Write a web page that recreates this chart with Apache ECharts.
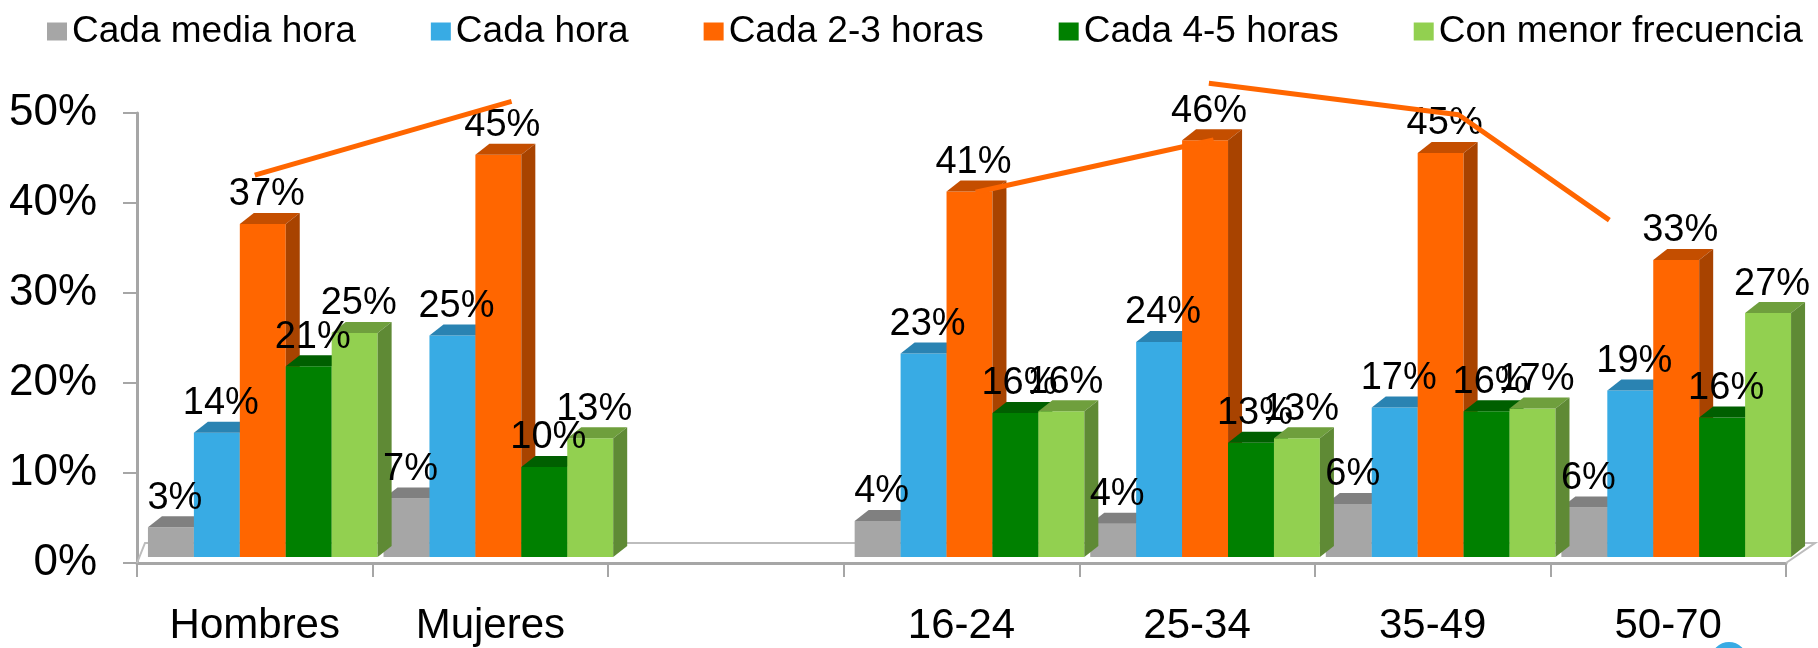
<!DOCTYPE html>
<html>
<head>
<meta charset="utf-8">
<script src="https://cdn.jsdelivr.net/npm/echarts@6/dist/echarts.min.js"></script>
<style>
  html, body { margin: 0; padding: 0; background: #fff; }
  #chart { width: 1818px; height: 648px; }
</style>
</head>
<body>
<div id="chart"></div>
<script>
// categories (the blank one is the gap between sex and age groups)
var categories = ['Hombres', 'Mujeres', '', '16-24', '25-34', '35-49', '50-70'];
var seriesNames = ['Cada media hora', 'Cada hora', 'Cada 2-3 horas', 'Cada 4-5 horas', 'Con menor frecuencia'];

// values in %
var mediaHora = [3.3, 6.5, null, 4.0, 3.7, 5.9, 5.5];
var unaHora = [13.8, 24.6, null, 22.6, 23.9, 16.6, 18.5];
var dosTres = [37.0, 44.7, null, 40.6, 46.3, 44.9, 33.0];
var cuatroCinco = [21.2, 10.0, null, 16.0, 12.7, 16.2, 15.5];
var menorFrec = [24.9, 13.2, null, 16.2, 13.2, 16.5, 27.1];

var yTicks = [0, 10, 20, 30, 40, 50];

// hand drawn orange trend strokes (x in category index units, y in %)
var trendSexX = [0.0, 1.09];
var trendSexY = [43.1, 51.3];
var trendRiseX = [3.06, 4.07];
var trendRiseY = [41.2, 47.0];
var trendFallX = [4.05, 5.11, 5.75];
var trendFallY = [53.3, 49.8, 38.1];

var frontColors = ['#A6A6A6', '#38ABE4', '#FF6600', '#008000', '#92D050'];
var topColors = ['#808080', '#2A83B2', '#C44E00', '#005F00', '#6F9F3D'];
var sideColors = ['#8A8A8A', '#2E8FC2', '#A84300', '#006A00', '#5F8A35'];

var FONT = 'Liberation Sans, Arial, sans-serif';
var DX = 14, DY = 11;      // bar depth
var SHIFT_X = 8, SHIFT_Y = 6;

function barRenderer(k) {
  return function (params, api) {
    var val = api.value(1);
    if (val == null || isNaN(val)) return;
    var cat = api.value(0);
    var base = api.coord([cat, 0]);
    var top = api.coord([cat, val]);
    var band = api.size([1, 0])[0];
    var w = band * 0.195;
    var x0 = base[0] - 2.5 * w + k * w + SHIFT_X;
    var yb = base[1] - SHIFT_Y;
    var yt = top[1] - SHIFT_Y;
    return {
      type: 'group',
      children: [
        { type: 'rect', shape: { x: x0, y: yt, width: w, height: yb - yt }, style: { fill: frontColors[k] } },
        { type: 'polygon', shape: { points: [[x0, yt], [x0 + w, yt], [x0 + w + DX, yt - DY], [x0 + DX, yt - DY]] }, style: { fill: topColors[k] } },
        { type: 'polygon', shape: { points: [[x0 + w, yt], [x0 + w + DX, yt - DY], [x0 + w + DX, yb - DY], [x0 + w, yb]] }, style: { fill: sideColors[k] } },
        { type: 'text', z2: 100, style: { text: Math.round(val) + '%', x: x0 + w / 2 + 4, y: yt - 29, align: 'center', verticalAlign: 'middle', fill: '#000', font: '38px ' + FONT } }
      ]
    };
  };
}

function floorRenderer(params, api) {
  var left = api.coord([0, 0]);
  var band = api.size([1, 0])[0];
  var x1 = left[0] - band / 2;
  var x2 = x1 + band * categories.length;
  var y = left[1];
  return {
    type: 'polyline',
    shape: { points: [[x1, y], [x1 + 8, y - 20], [x2 + 29, y - 20], [x2, y]] },
    style: { stroke: '#BDBDBD', lineWidth: 2, fill: null }
  };
}

function pairs(xs, ys) {
  return xs.map(function (x, i) { return [x, ys[i]]; });
}

var allValues = [mediaHora, unaHora, dosTres, cuatroCinco, menorFrec];

var series = [{
  type: 'custom',
  name: 'floor',
  renderItem: floorRenderer,
  data: [[0, 0]],
  silent: true,
  z: 1
}];

allValues.forEach(function (vals, k) {
  series.push({
    type: 'custom',
    name: seriesNames[k],
    renderItem: barRenderer(k),
    itemStyle: { color: frontColors[k] },
    encode: { x: 0, y: 1 },
    data: vals.map(function (v, i) { return [i, v]; }),
    z: 2
  });
});

[[trendSexX, trendSexY], [trendRiseX, trendRiseY], [trendFallX, trendFallY]].forEach(function (t) {
  series.push({
    type: 'line',
    xAxisIndex: 1,
    data: pairs(t[0], t[1]),
    symbol: 'none',
    clip: false,
    lineStyle: { color: '#FF6600', width: 5 },
    z: 3,
    silent: true
  });
});

var chart = echarts.init(document.getElementById('chart'));
chart.setOption({
  animation: false,
  legend: {
    data: seriesNames,
    left: 42,
    top: 8,
    icon: 'rect',
    itemWidth: 20,
    itemHeight: 18,
    itemGap: 75,
    textStyle: { fontSize: 37, color: '#000', fontFamily: FONT }
  },
  grid: { left: 137, right: 32, top: 113, bottom: 85 },
  xAxis: [{
    type: 'category',
    data: categories,
    boundaryGap: true,
    axisLine: { lineStyle: { color: '#A6A6A6', width: 3 } },
    axisTick: { show: true, interval: 0, length: 14, lineStyle: { color: '#A6A6A6', width: 2 } },
    axisLabel: { interval: 0, margin: 42, fontSize: 42, color: '#000', fontFamily: FONT }
  }, {
    type: 'value',
    min: -0.5,
    max: 6.5,
    show: false
  }],
  yAxis: {
    type: 'value',
    min: yTicks[0],
    max: yTicks[yTicks.length - 1],
    interval: 10,
    splitLine: { show: false },
    axisLine: { show: true, onZero: false, lineStyle: { color: '#A6A6A6', width: 3 } },
    axisTick: { show: true, length: 14, lineStyle: { color: '#A6A6A6', width: 2 } },
    axisLabel: { margin: 40, fontSize: 44, color: '#000', fontFamily: FONT, formatter: '{value}%' }
  },
  graphic: [{
    type: 'circle',
    shape: { cx: 1729, cy: 660, r: 18 },
    style: { fill: '#38ABE4' }
  }],
  series: series
});
</script>
</body>
</html>
